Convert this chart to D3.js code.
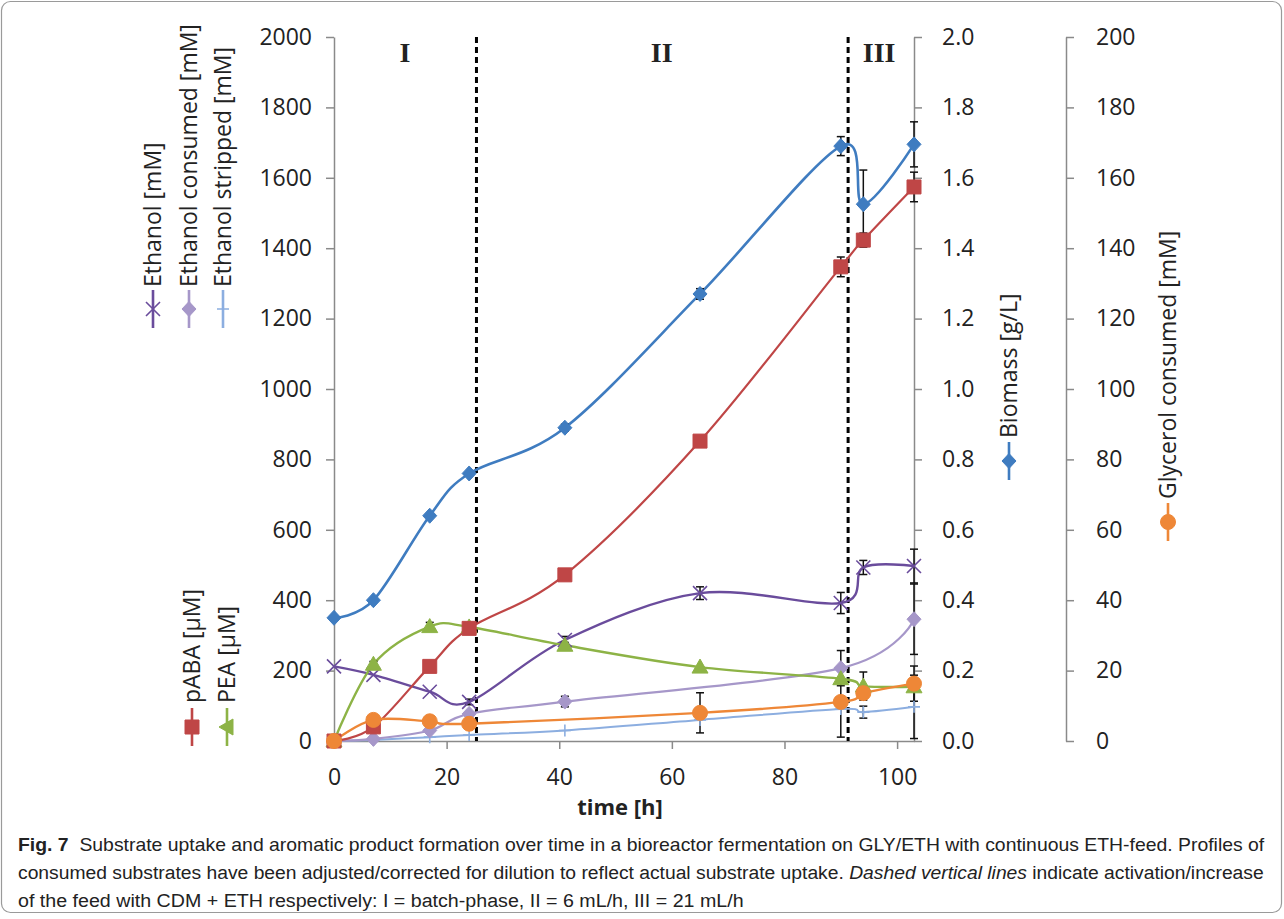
<!DOCTYPE html>
<html>
<head>
<meta charset="utf-8">
<script src="https://cdn.jsdelivr.net/npm/d3@7"></script>
<style>
body { margin: 0; background: #fff; }
svg text { font-family: "Open Sans", "Noto Sans", sans-serif; fill: #222; }
</style>
</head>
<body>
<div id="chart"></div>
<script>
//DATA
var time = [0, 7, 17, 24, 41, 65, 90, 94, 103];

var biomass = [0.35, 0.40, 0.64, 0.76, 0.89, 1.27, 1.69, 1.525, 1.695];      // g/L
var biomassErr = [0, 0, 0, 0, 0.01, 0.015, 0.027, 0.097, 0.064];

var pABA = [0, 40, 212, 320, 472, 852, 1347, 1423, 1574];                   // µM
var pABAErr = [0, 0, 0, 0, 0, 0, 28, 20, 42];

var pea = [0, 218, 325, 324, 272, 210, 177, 156, 154];                      // µM
var peaErr = [0, 8, 12, 0, 8, 0, 0, 40, 0];

var ethanol = [212, 188, 140, 111, 287, 420, 392, 493, 497];                // mM
var ethanolErr = [0, 0, 0, 8, 10, 18, 30, 20, 48];

var ethConsumed = [0, 6, 30, 77, 112, null, 207, null, 346];               // mM
var ethConsumedErr = [0, 0, 0, 0, 15, 0, 50, 0, 100];

var ethStripped = [0, 3, 11, 17, 30, 60, 91, 82, 97];                      // mM
var ethStrippedErr = [0, 0, 0, 0, 0, 0, 0, 17, 90];

var glycerol = [0, 6.0, 5.6, 4.9, null, 8.0, 11.1, 13.6, 16.3];           // mM
var glycerolErr = [0, 0, 1.5, 0, 0, 5.7, 10, 0, 5];

var leftTicks = d3.range(0, 2001, 200);
var bioTicks = d3.range(0, 2.01, 0.2);
var glyTicks = d3.range(0, 201, 20);
var timeTicks = [0, 20, 40, 60, 80, 100];

var feedChanges = [25.3, 91.3];
var phaseLabels = ["I", "II", "III"];
var phaseAt = [12.6, 58.2, 96.8];

//SVG
var svg = d3.select("#chart").append("svg")
  .attr("width", 1284)
  .attr("height", 919);

svg.append("rect")
  .attr("x", 1.5).attr("y", 1.5)
  .attr("width", 1280).attr("height", 911)
  .attr("rx", 9)
  .attr("fill", "#fff")
  .attr("stroke", "#9a9a9a")
  .attr("stroke-width", 1.2);

//PLOT AREA
var plot = {left: 334, right: 914, top: 37, bottom: 741};
var glyAxisX = 1066;
var axisColor = "#8a8a8a";

//SCALES
var x = d3.scaleLinear().domain([0, 103]).range([plot.left, plot.right]);
var yLeft = d3.scaleLinear().domain([0, 2000]).range([plot.bottom, plot.top]);
var yBio = d3.scaleLinear().domain([0, 2]).range([plot.bottom, plot.top]);
var yGly = d3.scaleLinear().domain([0, 200]).range([plot.bottom, plot.top]);

//AXES
function styleAxis(g) {
  g.selectAll("path, line").attr("stroke", axisColor).attr("stroke-width", 1.5);
  g.selectAll("text").attr("fill", "#222").style("font-size", "23px")
    .style("font-family", '"Open Sans", "Noto Sans", sans-serif');
}

svg.append("g")
  .attr("transform", `translate(${plot.left}, 0)`)
  .call(d3.axisLeft(yLeft).tickValues(leftTicks).tickFormat(d3.format("d"))
    .tickSize(8).tickSizeOuter(0).tickPadding(14))
  .call(styleAxis);

svg.append("g")
  .attr("transform", `translate(${plot.right}, 0)`)
  .call(d3.axisRight(yBio).tickValues(bioTicks).tickFormat(d3.format(".1f"))
    .tickSize(8).tickSizeOuter(0).tickPadding(20))
  .call(styleAxis);

svg.append("g")
  .attr("transform", `translate(${glyAxisX}, 0)`)
  .call(d3.axisRight(yGly).tickValues(glyTicks).tickFormat(d3.format("d"))
    .tickSize(8).tickSizeOuter(0).tickPadding(22))
  .call(styleAxis);

svg.append("g")
  .attr("transform", `translate(0, ${plot.bottom})`)
  .call(d3.axisBottom(x).tickValues(timeTicks).tickFormat(d3.format("d"))
    .tickSize(8).tickSizeOuter(0).tickPadding(20))
  .call(styleAxis);

svg.append("text")
  .attr("x", 620).attr("y", 815)
  .attr("text-anchor", "middle")
  .style("font-size", "22px").style("font-weight", "bold")
  .text("time [h]");

//FEED CHANGE LINES AND PHASE LABELS
svg.selectAll(".feed").data(feedChanges).enter().append("line")
  .attr("class", "feed")
  .attr("x1", d => x(d)).attr("x2", d => x(d))
  .attr("y1", plot.top).attr("y2", plot.bottom)
  .attr("stroke", "#000").attr("stroke-width", 3)
  .attr("stroke-dasharray", "6,4");

svg.selectAll(".phase").data(phaseLabels).enter().append("text")
  .attr("class", "phase")
  .attr("x", (d, i) => x(phaseAt[i])).attr("y", 62)
  .attr("text-anchor", "middle")
  .style("font-family", '"Liberation Serif", "DejaVu Serif", serif')
  .style("font-size", "28px").style("font-weight", "bold")
  .attr("fill", "#111")
  .text(d => d);

//MARKER SHAPES
var shapes = {
  diamond: {d: "M0,-7.5L7,0L0,7.5L-7,0Z", fill: true},
  square: {d: "M-7,-7h14v14h-14z", fill: true},
  triangle: {d: "M0,-8L8,6H-8Z", fill: true},
  triangleLeft: {d: "M-8,0L6,-8V8Z", fill: true},
  circle: {d: "M7.5,0A7.5,7.5 0 1,1 -7.5,0A7.5,7.5 0 1,1 7.5,0Z", fill: true},
  cross: {d: "M-7,-7L7,7M-7,7L7,-7", fill: false},
  plus: {d: "M-6,0H6M0,-6V6", fill: false}
};

function drawMarker(sel, shape, color) {
  var s = shapes[shape];
  sel.attr("d", s.d)
    .attr("fill", s.fill ? color : "none")
    .attr("stroke", color)
    .attr("stroke-width", s.fill ? 1 : 1.6);
}

//SERIES TABLE
var series = [
  {vals: ethStripped, err: ethStrippedErr, y: yLeft, color: "#8caee0", shape: "plus", width: 2},
  {vals: ethConsumed, err: ethConsumedErr, y: yLeft, color: "#a697c9", shape: "diamond", width: 2.2},
  {vals: ethanol, err: ethanolErr, y: yLeft, color: "#6a4c9c", shape: "cross", width: 2.4},
  {vals: pea, err: peaErr, y: yLeft, color: "#8db346", shape: "triangle", width: 2.4},
  {vals: pABA, err: pABAErr, y: yLeft, color: "#bf4646", shape: "square", width: 2.2},
  {vals: biomass, err: biomassErr, y: yBio, color: "#3f7cc0", shape: "diamond", width: 2.6},
  {vals: glycerol, err: glycerolErr, y: yGly, color: "#ee8737", shape: "circle", width: 2.4}
];

series.forEach(function(s) {
  s.pts = time.map(function(t, i) { return {t: t, v: s.vals[i], e: s.err[i]}; })
    .filter(function(d) { return d.v !== null; });
});

var smooth = d3.curveCardinal.tension(0);

//LINES
series.forEach(function(s) {
  var line = d3.line()
    .x(d => x(d.t))
    .y(d => s.y(d.v))
    .curve(smooth);
  svg.append("path")
    .attr("d", line(s.pts))
    .attr("fill", "none")
    .attr("stroke", s.color)
    .attr("stroke-width", s.width);
});

//ERROR BARS
series.forEach(function(s) {
  var eb = svg.append("g").selectAll("g")
    .data(s.pts.filter(d => d.e > 0))
    .enter().append("g");
  eb.append("line")
    .attr("x1", d => x(d.t)).attr("x2", d => x(d.t))
    .attr("y1", d => s.y(d.v - d.e)).attr("y2", d => s.y(d.v + d.e));
  eb.append("line")
    .attr("x1", d => x(d.t) - 4).attr("x2", d => x(d.t) + 4)
    .attr("y1", d => s.y(d.v - d.e)).attr("y2", d => s.y(d.v - d.e));
  eb.append("line")
    .attr("x1", d => x(d.t) - 4).attr("x2", d => x(d.t) + 4)
    .attr("y1", d => s.y(d.v + d.e)).attr("y2", d => s.y(d.v + d.e));
  eb.selectAll("line").attr("stroke", "#111").attr("stroke-width", 1.5);
});

//MARKERS
series.forEach(function(s) {
  svg.append("g").selectAll("path")
    .data(s.pts)
    .enter().append("path")
    .attr("transform", d => `translate(${x(d.t)}, ${s.y(d.v)})`)
    .call(drawMarker, s.shape, s.color);
});

//ROTATED LEGEND ENTRIES
var legendItems = [
  {text: "Ethanol [mM]", color: "#6a4c9c", shape: "cross", cx: 153, textY: 287, my: 309},
  {text: "Ethanol consumed [mM]", color: "#a697c9", shape: "diamond", cx: 189, textY: 287, my: 309},
  {text: "Ethanol stripped [mM]", color: "#8caee0", shape: "plus", cx: 223, textY: 287, my: 309},
  {text: "pABA [\u00b5M]", color: "#bf4646", shape: "square", cx: 192, textY: 703, my: 727},
  {text: "PEA [\u00b5M]", color: "#8db346", shape: "triangleLeft", cx: 227, textY: 703, my: 727},
  {text: "Biomass [g/L]", color: "#3f7cc0", shape: "diamond", cx: 1009, textY: 438, my: 461},
  {text: "Glycerol consumed [mM]", color: "#ee8737", shape: "circle", cx: 1168, textY: 499, my: 522}
];

legendItems.forEach(function(l) {
  svg.append("text")
    .attr("transform", `translate(${l.cx}, ${l.textY}) rotate(-90)`)
    .attr("dy", "0.35em")
    .style("font-size", "23px")
    .text(l.text);
  svg.append("line")
    .attr("x1", l.cx).attr("x2", l.cx)
    .attr("y1", l.my - 19).attr("y2", l.my + 19)
    .attr("stroke", l.color).attr("stroke-width", 2.6);
  svg.append("path")
    .attr("transform", `translate(${l.cx}, ${l.my})`)
    .call(drawMarker, l.shape, l.color);
});

//CAPTION
var capFont = '"Liberation Sans Narrow", "Liberation Sans", "Noto Sans", sans-serif';
var capLines = [
  {y: 851, width: 1247, parts: [["Fig. 7", "bold", "normal"], ["  Substrate uptake and aromatic product formation over time in a bioreactor fermentation on GLY/ETH with continuous ETH-feed. Profiles of", "normal", "normal"]]},
  {y: 879, width: 1247, parts: [["consumed substrates have been adjusted/corrected for dilution to reflect actual substrate uptake. ", "normal", "normal"], ["Dashed vertical lines", "normal", "italic"], [" indicate activation/increase", "normal", "normal"]]},
  {y: 907, width: 726, parts: [["of the feed with CDM + ETH respectively: I = batch-phase, II = 6 mL/h, III = 21 mL/h", "normal", "normal"]]}
];

capLines.forEach(function(c) {
  var t = svg.append("text")
    .attr("x", 0).attr("y", 0)
    .attr("xml:space", "preserve")
    .style("font-family", capFont)
    .style("font-size", "19px")
    .attr("fill", "#1a1a1a");
  c.parts.forEach(function(p) {
    t.append("tspan")
      .style("font-weight", p[1])
      .style("font-style", p[2])
      .text(p[0]);
  });
  var w = t.node().getComputedTextLength();
  t.attr("transform", `translate(18, ${c.y}) scale(${c.width / w}, 1)`);
});
</script>
</body>
</html>
